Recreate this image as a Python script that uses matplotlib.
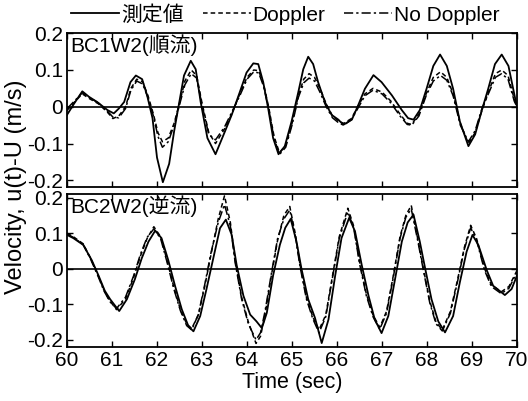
import matplotlib
matplotlib.use("Agg")
import matplotlib.pyplot as plt

plt.rcParams["font.family"] = ["Liberation Sans", "Noto Sans CJK JP"]
plt.rcParams["axes.unicode_minus"] = False

# ---------------------------------------------------------------------------
# data: time (s) and velocity u(t)-U (m/s)
# ---------------------------------------------------------------------------
# upper panel, BC1W2 (following current)
t_meas1 = [60.0, 60.16, 60.34, 60.49, 60.67, 60.9, 61.04, 61.15, 61.27, 61.41,
           61.53, 61.67, 61.78, 61.9, 62.0, 62.13, 62.27, 62.38, 62.49, 62.6,
           62.75, 62.86, 62.97, 63.12, 63.3, 63.51, 63.66, 63.84, 63.99, 64.14,
           64.25, 64.36, 64.47, 64.58, 64.7, 64.84, 64.99, 65.14, 65.25, 65.36,
           65.47, 65.58, 65.73, 65.88, 66.03, 66.14, 66.33, 66.47, 66.62, 66.81,
           66.99, 67.22, 67.44, 67.58, 67.7, 67.84, 67.99, 68.14, 68.29, 68.44,
           68.58, 68.73, 68.92, 69.07, 69.21, 69.36, 69.51, 69.66, 69.81, 69.96,
           70.0]
u_meas1 = [-0.022, 0.009, 0.042, 0.027, 0.013, -0.009, -0.018, -0.005, 0.013, 0.067,
           0.085, 0.075, 0.031, -0.031, -0.138, -0.205, -0.155, -0.067, 0.009, 0.085,
           0.125, 0.102, 0.013, -0.085, -0.129, -0.067, -0.022, 0.04, 0.093, 0.118,
           0.116, 0.067, -0.004, -0.085, -0.129, -0.107, -0.04, 0.04, 0.102, 0.136,
           0.116, 0.067, 0.013, -0.022, -0.035, -0.049, -0.035, 0.004, 0.049, 0.086,
           0.067, 0.031, -0.009, -0.031, -0.035, -0.009, 0.049, 0.111, 0.142, 0.111,
           0.049, -0.04, -0.107, -0.075, -0.013, 0.049, 0.116, 0.142, 0.111, 0.022,
           0.0]
t_calc1 = [60.0, 60.16, 60.34, 60.5, 60.7, 60.9, 61.02, 61.15, 61.3, 61.42,
           61.55, 61.68, 61.8, 61.92, 62.02, 62.12, 62.25, 62.38, 62.5, 62.62,
           62.76, 62.88, 63.0, 63.15, 63.3, 63.5, 63.66, 63.84, 64.0, 64.15,
           64.26, 64.37, 64.48, 64.6, 64.72, 64.86, 65.0, 65.14, 65.26, 65.38,
           65.5, 65.62, 65.76, 65.9, 66.05, 66.15, 66.32, 66.46, 66.62, 66.8,
           67.0, 67.2, 67.4, 67.56, 67.66, 67.82, 67.98, 68.14, 68.3, 68.44,
           68.58, 68.74, 68.92, 69.07, 69.22, 69.38, 69.52, 69.66, 69.8, 69.94,
           70.0]
u_dop1 = [-0.01, 0.012, 0.035, 0.022, 0.008, -0.015, -0.032, -0.025, 0.0, 0.05,
          0.075, 0.068, 0.03, -0.02, -0.07, -0.095, -0.085, -0.045, 0.01, 0.07,
          0.1, 0.085, 0.01, -0.07, -0.1, -0.06, -0.02, 0.035, 0.08, 0.1,
          0.098, 0.06, 0.0, -0.08, -0.125, -0.105, -0.045, 0.03, 0.075, 0.09,
          0.08, 0.05, 0.008, -0.025, -0.04, -0.045, -0.032, 0.0, 0.035, 0.05,
          0.04, 0.015, -0.02, -0.045, -0.048, -0.02, 0.035, 0.08, 0.095, 0.08,
          0.035, -0.045, -0.1, -0.07, -0.01, 0.045, 0.09, 0.1, 0.085, 0.02,
          0.0]
u_nodop1 = [-0.005, 0.015, 0.038, 0.025, 0.01, -0.012, -0.028, -0.03, -0.005, 0.045,
            0.07, 0.062, 0.025, -0.025, -0.08, -0.11, -0.095, -0.05, 0.005, 0.06,
            0.09, 0.078, 0.005, -0.075, -0.09, -0.055, -0.015, 0.03, 0.075, 0.095,
            0.092, 0.055, -0.005, -0.085, -0.13, -0.11, -0.05, 0.025, 0.065, 0.078,
            0.07, 0.04, 0.0, -0.03, -0.045, -0.05, -0.035, -0.005, 0.03, 0.045,
            0.035, 0.01, -0.025, -0.048, -0.05, -0.025, 0.03, 0.07, 0.085, 0.072,
            0.03, -0.05, -0.095, -0.065, -0.005, 0.04, 0.08, 0.09, 0.075, 0.015,
            0.0]

# lower panel, BC2W2 (opposing current)
t_meas2 = [60.0, 60.14, 60.36, 60.55, 60.7, 60.84, 60.96, 61.16, 61.33, 61.51,
           61.66, 61.81, 61.96, 62.1, 62.25, 62.4, 62.55, 62.7, 62.81, 62.96,
           63.1, 63.25, 63.4, 63.53, 63.66, 63.77, 63.92, 64.07, 64.21, 64.33,
           64.44, 64.58, 64.73, 64.85, 64.97, 65.1, 65.21, 65.36, 65.51, 65.66,
           65.81, 65.96, 66.1, 66.27, 66.4, 66.55, 66.7, 66.84, 66.99, 67.14,
           67.29, 67.44, 67.57, 67.7, 67.84, 67.96, 68.1, 68.25, 68.4, 68.58,
           68.73, 68.88, 69.01, 69.14, 69.33, 69.47, 69.73, 69.88, 70.0]
u_meas2 = [0.095, 0.086, 0.067, 0.024, -0.019, -0.062, -0.086, -0.119, -0.086, -0.029,
           0.029, 0.076, 0.107, 0.086, 0.024, -0.048, -0.114, -0.162, -0.176, -0.133,
           -0.057, 0.029, 0.114, 0.138, 0.095, 0.01, -0.076, -0.129, -0.148, -0.167,
           -0.124, -0.019, 0.067, 0.115, 0.14, 0.076, 0.0, -0.086, -0.138, -0.209,
           -0.143, -0.019, 0.086, 0.143, 0.105, 0.01, -0.076, -0.143, -0.181, -0.133,
           -0.029, 0.076, 0.13, 0.152, 0.076, 0.0, -0.086, -0.148, -0.179, -0.133,
           -0.038, 0.048, 0.095, 0.067, -0.005, -0.048, -0.074, -0.057, -0.019]
t_calc2 = [60.0, 60.14, 60.36, 60.52, 60.68, 60.82, 60.95, 61.1, 61.3, 61.48,
           61.63, 61.78, 61.93, 62.08, 62.22, 62.37, 62.52, 62.66, 62.77, 62.92,
           63.06, 63.2, 63.36, 63.5, 63.63, 63.74, 63.88, 64.03, 64.2, 64.3,
           64.4, 64.54, 64.68, 64.82, 64.95, 65.07, 65.18, 65.32, 65.46, 65.6,
           65.75, 65.9, 66.05, 66.24, 66.37, 66.5, 66.65, 66.8, 66.95, 67.1,
           67.25, 67.4, 67.53, 67.65, 67.8, 67.92, 68.06, 68.2, 68.34, 68.52,
           68.68, 68.83, 68.97, 69.1, 69.28, 69.43, 69.65, 69.82, 70.0]
u_dop2 = [0.1, 0.09, 0.07, 0.03, -0.015, -0.06, -0.09, -0.115, -0.085, -0.025,
          0.035, 0.085, 0.118, 0.09, 0.025, -0.05, -0.115, -0.155, -0.168, -0.13,
          -0.05, 0.04, 0.14, 0.205, 0.13, 0.02, -0.08, -0.15, -0.21, -0.19,
          -0.13, -0.02, 0.08, 0.15, 0.175, 0.1, 0.01, -0.08, -0.135, -0.172,
          -0.13, -0.02, 0.09, 0.17, 0.12, 0.02, -0.07, -0.13, -0.165, -0.12,
          -0.02, 0.09, 0.15, 0.178, 0.08, 0.0, -0.09, -0.15, -0.172, -0.12,
          -0.03, 0.06, 0.122, 0.085, 0.0, -0.045, -0.065, -0.05, -0.005]
u_nodop2 = [0.098, 0.088, 0.068, 0.028, -0.018, -0.062, -0.092, -0.112, -0.08, -0.02,
            0.04, 0.088, 0.112, 0.085, 0.02, -0.055, -0.118, -0.16, -0.172, -0.128,
            -0.045, 0.045, 0.13, 0.18, 0.12, 0.015, -0.085, -0.155, -0.2, -0.18,
            -0.12, -0.015, 0.085, 0.14, 0.165, 0.095, 0.005, -0.085, -0.14, -0.18,
            -0.135, -0.025, 0.085, 0.16, 0.115, 0.015, -0.075, -0.135, -0.17, -0.125,
            -0.025, 0.085, 0.145, 0.168, 0.075, -0.005, -0.095, -0.155, -0.175, -0.125,
            -0.035, 0.055, 0.115, 0.08, -0.005, -0.05, -0.07, -0.055, -0.01]

series_labels = ["測定値", "Doppler", "No Doppler"]
panel_labels = ["BC1W2(順流)", "BC2W2(逆流)"]
x_ticks = [60, 61, 62, 63, 64, 65, 66, 67, 68, 69, 70]
y_ticks = [-0.2, -0.1, 0, 0.1, 0.2]
y_ticklabels = ["-0.2", "-0.1", "0", "0.1", "0.2"]

# ---------------------------------------------------------------------------
fig = plt.figure(figsize=(5.28, 4.01), dpi=100)
ax1 = fig.add_axes([0.1269, 0.5337, 0.8523, 0.384])
ax2 = fig.add_axes([0.1269, 0.1347, 0.8523, 0.3815])

dop_style = (0, (3.0, 2.0))
nodop_style = (0, (6.0, 2.0, 1.5, 2.0))

panels = [
    (ax1, t_meas1, u_meas1, t_calc1, u_dop1, u_nodop1, (-0.218, 0.2005)),
    (ax2, t_meas2, u_meas2, t_calc2, u_dop2, u_nodop2, (-0.22, 0.21)),
]
for i, (ax, tm, um, tc, ud, un, ylim) in enumerate(panels):
    ax.axhline(0, color="black", lw=1.2)
    ax.plot(tm, um, color="black", lw=1.3, label=series_labels[0])
    ax.plot(tc, ud, color="black", lw=1.1, linestyle=dop_style,
            label=series_labels[1])
    ax.plot(tc, un, color="black", lw=1.1, linestyle=nodop_style,
            label=series_labels[2])
    ax.set_xlim(60, 70)
    ax.set_ylim(*ylim)
    ax.set_xticks(x_ticks)
    ax.set_yticks(y_ticks)
    ax.set_yticklabels(y_ticklabels)
    ax.tick_params(direction="in", top=True, right=True, length=4,
                   width=1.0, labelsize=15, pad=3)
    for sp in ax.spines.values():
        sp.set_linewidth(1.3)
    ax.text(0.008, 0.99, panel_labels[i], transform=ax.transAxes,
            ha="left", va="top", fontsize=15)

ax1.tick_params(labelbottom=False)
ax2.set_xticklabels([str(v) for v in x_ticks])
ax2.set_xlabel("Time (sec)", fontsize=15.5, labelpad=1)

fig.text(0.03, 0.535, "Velocity, u(t)-U (m/s)", rotation=90,
         ha="center", va="center", fontsize=17)

handles, labels = ax1.get_legend_handles_labels()
fig.legend(handles, labels, loc="center left", bbox_to_anchor=(0.135, 0.963),
           ncol=3, frameon=False, fontsize=15, handlelength=2.3,
           handletextpad=0.1, columnspacing=0.9, borderpad=0, borderaxespad=0)

fig.savefig("out.png", dpi=100)
